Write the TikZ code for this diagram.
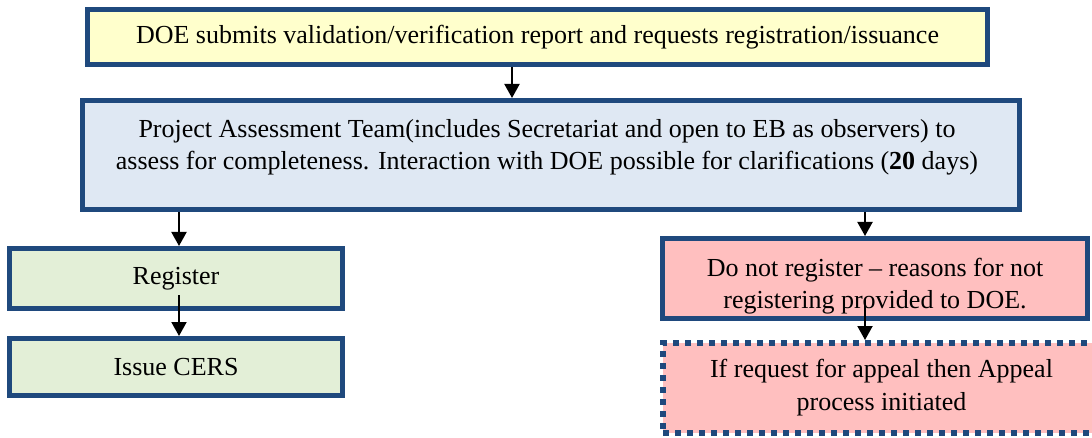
\documentclass[tikz,border=0pt]{standalone}
\usepackage{fontspec}
\setmainfont{Liberation Serif}
\usetikzlibrary{arrows.meta}
\definecolor{edgeblue}{HTML}{1F497D}
\definecolor{fillyellow}{HTML}{FFFFCC}
\definecolor{fillblue}{HTML}{DFE8F3}
\definecolor{fillgreen}{HTML}{E3EFD7}
\definecolor{fillpink}{HTML}{FFBFBF}
\begin{document}
\begin{tikzpicture}[x=1pt,y=-1pt,
  box/.style={draw=edgeblue, line width=5pt, rectangle, inner sep=0pt,
    font=\fontsize{26}{33}\selectfont, align=center},
  dottedbox/.style={box, line width=6pt, dash pattern=on 6pt off 6pt},
  txt/.style={font=\fontsize{26}{32}\selectfont, align=center, inner sep=0pt},
  arr/.style={-{Triangle[length=14pt,width=15pt]}, line width=2pt, black}]
\useasboundingbox (0,0) rectangle (1092,438);

% request from the DOE
\node[box, fill=fillyellow, minimum width=900pt, minimum height=55pt] (submit) at (537.5,37)
  {DOE submits validation/verification report and requests registration/issuance};

% assessment by the project team
\node[box, fill=fillblue, minimum width=937pt, minimum height=109pt] (assess) at (551,155) {};
\node[txt] (assesstext) at (547,147)
  {Project Assessment Team(includes Secretariat and open to EB as observers) to\\
   assess for completeness. Interaction with DOE possible for clarifications (\textbf{20} days)};

% positive outcome
\node[box, fill=fillgreen, minimum width=333pt, minimum height=60pt] (register) at (176,278.5) {Register};
\node[box, fill=fillgreen, minimum width=333pt, minimum height=57pt] (issue) at (176,367) {Issue CERS};

% negative outcome
\node[box, fill=fillpink, minimum width=425pt, minimum height=80pt] (reject) at (875,278.5) {};
\node[txt] (rejecttext) at (875,286)
  {Do not register -- reasons for not\\registering provided to DOE.};
\node[dottedbox, fill=fillpink, minimum width=437pt, minimum height=90pt] (appeal) at (881.5,388)
  {If request for appeal then Appeal\\process initiated};

% connectors
\draw[arr] ([xshift=-25.5pt]submit.south) -- ([xshift=-25.5pt]submit.south |- assess.north);
\draw[arr] ([xshift=3pt]register.north |- assess.south) -- ([xshift=3pt]register.north);
\draw[arr] ([xshift=3pt,yshift=-17pt]register.center) -- ([xshift=3pt]issue.north);
\draw[arr] ([xshift=-10pt]reject.north |- assess.south) -- ([xshift=-10pt]reject.north);
\draw[arr] ([xshift=-10pt,yshift=-22pt]reject.center) -- ([xshift=-10pt]reject.center |- appeal.north);
\end{tikzpicture}
\end{document}
